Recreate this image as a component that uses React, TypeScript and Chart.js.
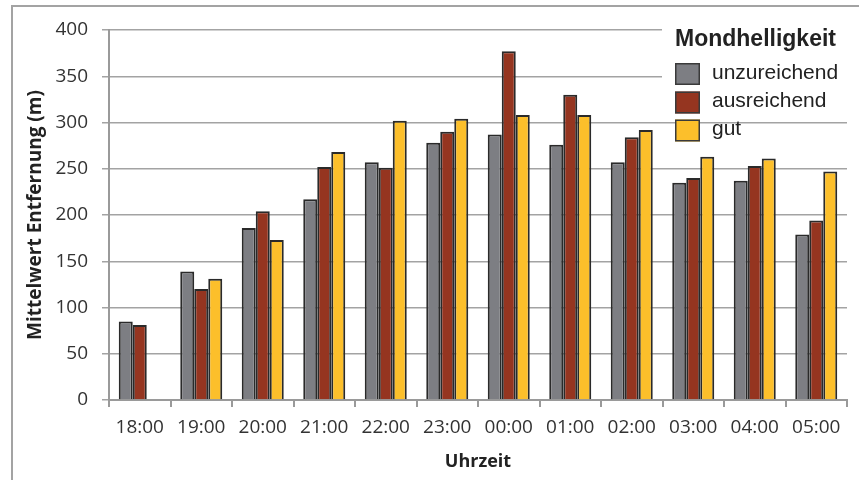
import React, { useEffect, useRef } from "react";
import { Chart, registerables } from "chart.js";

Chart.register(...registerables);

const categories = ["18:00", "19:00", "20:00", "21:00", "22:00", "23:00", "00:00", "01:00", "02:00", "03:00", "04:00", "05:00"];
const unzureichend = [85, 139, 186, 217, 257, 278, 287, 276, 257, 235, 237, 179];
const ausreichend = [81, 120, 204, 252, 251, 290, 377, 330, 284, 240, 253, 194];
const gut = [null, 131, 173, 268, 302, 304, 308, 308, 292, 263, 261, 247];
const seriesNames = ["unzureichend", "ausreichend", "gut"];
const seriesColors = ["#7d7e83", "#953520", "#fcbf2b"];
const legendTitle = "Mondhelligkeit";
const xTitle = "Uhrzeit";
const yTitle = "Mittelwert Entfernung (m)";

const TICK_FONT = "'Open Sans', sans-serif";

const framePlugin = {
  id: "frame",
  beforeDraw(chart: any) {
    const ctx = chart.ctx;
    ctx.save();
    ctx.fillStyle = "#ffffff";
    ctx.fillRect(0, 0, chart.width, chart.height);
    ctx.strokeStyle = "#a3a3a3";
    ctx.lineWidth = 2;
    ctx.beginPath();
    ctx.moveTo(12, chart.height + 2);
    ctx.lineTo(12, 6);
    ctx.lineTo(chart.width + 2, 6);
    ctx.stroke();
    ctx.restore();
  },
};

const legendPlugin = {
  id: "customLegend",
  afterDraw(chart: any) {
    const ctx = chart.ctx;
    ctx.save();
    ctx.fillStyle = "#ffffff";
    ctx.fillRect(662, 22, 186, 96);
    ctx.fillStyle = "#222222";
    ctx.textAlign = "left";
    ctx.textBaseline = "middle";
    ctx.font = "bold 23px 'Liberation Sans', Arial, sans-serif";
    ctx.fillText(legendTitle, 675, 40);
    ctx.font = "21px 'Liberation Sans', Arial, sans-serif";
    const boxTops = [63, 91.5, 119.5];
    seriesNames.forEach((name, i) => {
      const y = boxTops[i];
      ctx.fillStyle = seriesColors[i];
      ctx.fillRect(675, y, 25, 22);
      ctx.strokeStyle = "#3a3a3a";
      ctx.lineWidth = 1.5;
      ctx.strokeRect(675.75, y + 0.75, 23.5, 20.5);
      ctx.fillStyle = "#222222";
      ctx.fillText(name, 712, y + 10);
    });
    ctx.restore();
  },
};

export default function App() {
  const canvasRef = useRef<HTMLCanvasElement | null>(null);

  useEffect(() => {
    const canvas = canvasRef.current;
    if (!canvas) return;
    const mk = (label: string, data: (number | null)[], color: string) => ({
      label,
      data,
      backgroundColor: color,
      borderColor: "#2a2a2a",
      borderWidth: 2,
      categoryPercentage: 0.683,
      barPercentage: 1.0,
    });
    const chart = new Chart(canvas, {
      type: "bar",
      data: {
        labels: categories,
        datasets: [
          mk(seriesNames[0], unzureichend, seriesColors[0]),
          mk(seriesNames[1], ausreichend, seriesColors[1]),
          mk(seriesNames[2], gut, seriesColors[2]),
        ],
      },
      options: {
        responsive: false,
        animation: false,
        layout: { padding: { top: 30, right: 12, left: 0, bottom: 0 } },
        plugins: {
          legend: { display: false },
          tooltip: { enabled: false },
          title: { display: false },
        },
        scales: {
          x: {
            grid: {
              display: true,
              drawOnChartArea: false,
              drawTicks: true,
              tickLength: 7,
              color: "#9a9a9a",
              lineWidth: 2,
              offset: true,
            },
            border: { display: true, color: "#9a9a9a", width: 2 },
            ticks: {
              color: "#333333",
              font: { family: TICK_FONT, size: 19 },
              padding: 9,
              maxRotation: 0,
              autoSkip: false,
            },
            title: {
              display: true,
              text: xTitle,
              color: "#222222",
              font: { family: TICK_FONT, size: 18, weight: "bold" },
              padding: { top: 0, bottom: 7 },
            },
            afterFit: (s: any) => {
              s.height = 80;
            },
          },
          y: {
            min: 0,
            max: 400,
            ticks: {
              stepSize: 50,
              color: "#333333",
              font: { family: TICK_FONT, size: 19 },
              padding: 14,
            },
            grid: {
              color: "#a3a3a3",
              lineWidth: 1.5,
              tickLength: 7,
              drawTicks: true,
            },
            border: { display: true, color: "#9a9a9a", width: 2 },
            title: {
              display: true,
              text: yTitle,
              color: "#222222",
              font: { family: TICK_FONT, size: 19, weight: "bold" },
              padding: { top: 24, bottom: 0 },
            },
            afterFit: (s: any) => {
              s.width = 109;
            },
          },
        },
      },
      plugins: [framePlugin, legendPlugin],
    } as any);
    return () => chart.destroy();
  }, []);

  return (
    <div style={{ position: "fixed", left: 0, top: 0, width: 859, height: 480, background: "#fff" }}>
      <canvas ref={canvasRef} width={859} height={480} style={{ display: "block", width: 859, height: 480 }} />
    </div>
  );
}
